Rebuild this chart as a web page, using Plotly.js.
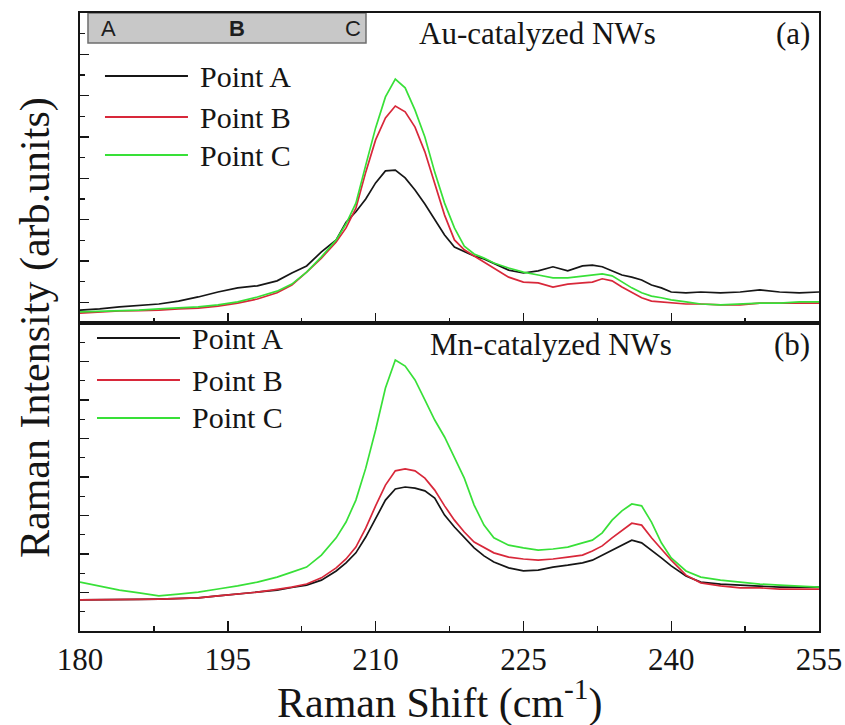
<!DOCTYPE html>
<html>
<head>
<meta charset="utf-8">
<script src="https://cdn.plot.ly/plotly-3.0.1.min.js"></script>
<style>
  html, body { margin: 0; padding: 0; background: #fff; }
  #chart { width: 845px; height: 725px; }
</style>
</head>
<body>
<div id="chart"></div>
<script>
// Raman shift sampling (cm^-1), shared by every spectrum
const ramanShift = [180, 182, 184, 186, 188, 190, 192, 194, 196, 198,
  200, 201.5, 203, 204.5, 206,
  207, 208, 209, 210, 211, 212, 213, 214, 215, 216,
  217, 218, 219, 220, 221, 222,
  223.5, 225, 226.5, 228, 229.5, 231,
  232, 233, 234, 235, 236, 237, 238, 239, 240,
  241.5, 243, 245, 247, 249, 251, 253, 255];

// (a) Au-catalyzed NWs, intensity in arbitrary units
const auPointA = [31, 34, 39, 42, 46, 53, 63, 75, 85, 90,
  102, 121, 138, 172, 201,
  244, 269, 300, 339, 368, 370, 351, 322, 288, 252,
  213, 184, 172, 162, 155, 145,
  128, 121, 126, 136, 126, 138,
  140, 136, 126, 116, 111, 104, 92, 85, 75,
  73, 75, 73, 75, 80, 75, 73, 75];
const auPointB = [24, 27, 29, 30, 31, 34, 36, 41, 48, 58,
  73, 92, 123, 157, 196,
  230, 278, 365, 443, 496, 525, 511, 474, 414, 336,
  261, 201, 177, 162, 148, 133,
  111, 99, 97, 87, 94, 97,
  99, 107, 102, 87, 73, 61, 53, 51, 48,
  46, 46, 44, 44, 48, 48, 48, 48];
const auPointC = [27, 28, 29, 31, 34, 36, 39, 44, 51, 63,
  77, 94, 123, 160, 201,
  240, 290, 382, 472, 547, 590, 569, 515, 450, 365,
  290, 230, 186, 167, 157, 145,
  133, 123, 116, 109, 109, 114,
  116, 119, 114, 99, 85, 73, 65, 61, 56,
  51, 46, 44, 46, 48, 48, 51, 51];

// (b) Mn-catalyzed NWs, intensity in arbitrary units
const mnPointA = [81, 81, 81, 82, 83, 84, 86, 91, 96, 100,
  106, 113, 119, 132, 156,
  177, 203, 244, 293, 340, 369, 374, 371, 364, 345,
  301, 270, 242, 216, 195, 179,
  164, 156, 158, 166, 171, 177,
  184, 197, 210, 223, 236, 229, 210, 190, 169,
  143, 127, 122, 119, 117, 114, 114, 114];
const mnPointB = [81, 81, 81, 82, 83, 84, 86, 91, 96, 101,
  108, 114, 122, 138, 164,
  187, 218, 267, 325, 379, 416, 421, 416, 397, 366,
  325, 288, 257, 231, 216, 203,
  192, 187, 184, 187, 192, 197,
  208, 221, 242, 262, 280, 275, 242, 213, 184,
  145, 125, 117, 112, 112, 109, 109, 109];
const mnPointC = [127, 117, 106, 99, 91, 96, 101, 109, 117, 127,
  140, 153, 166, 197, 242,
  283, 340, 423, 522, 631, 704, 688, 652, 600, 548,
  504, 449, 397, 327, 275, 242,
  223, 216, 210, 213, 218, 229,
  236, 255, 288, 312, 330, 325, 283, 229, 190,
  156, 140, 132, 127, 122, 119, 117, 114];

const seriesNames = ['Point A', 'Point B', 'Point C'];
const seriesColors = ['#161616', '#d8283a', '#38e038'];
const panelTitles = ['Au-catalyzed NWs', 'Mn-catalyzed NWs'];
const panelTags = ['(a)', '(b)'];
const positionMarks = ['A', 'B', 'C'];
const xTickVals = [180, 195, 210, 225, 240, 255];
const xTitle = 'Raman Shift (cm<sup>-1</sup>)';
const yTitle = 'Raman Intensity (arb.units)';

const panels = [
  {series: [auPointA, auPointB, auPointC], xa: 'x', ya: 'y'},
  {series: [mnPointA, mnPointB, mnPointC], xa: 'x2', ya: 'y2'}
];

const traces = [];
panels.forEach(p => {
  p.series.forEach((vals, i) => {
    traces.push({
      type: 'scatter', mode: 'lines',
      x: ramanShift, y: vals,
      xaxis: p.xa, yaxis: p.ya,
      name: seriesNames[i],
      line: {color: seriesColors[i], width: 1.7},
      hoverinfo: 'x+y+name'
    });
  });
});

const serif = 'Liberation Serif, Times New Roman, serif';
const ink = '#151515';

const frame = {
  showline: true, linecolor: ink, linewidth: 1.6, mirror: true,
  showgrid: false, zeroline: false,
  ticks: 'inside', tickcolor: ink, tickwidth: 1.4
};

// Plot area in paper units: bottom panel share of the height
const split = 0.4984;

// Legend blocks with long line samples, one per panel
const legendRows = [
  {lineX: [0.0338, 0.1461], textX: 0.1597, ys: [0.898, 0.8317, 0.7702]},
  {lineX: [0.0230, 0.1353], textX: 0.1488, ys: [0.4741, 0.4061, 0.3447]}
];

// Grey strip marking the A-B-C scan positions
const shapes = [{
  type: 'rect', xref: 'paper', yref: 'paper',
  x0: 0.0108, x1: 0.387, y0: 0.9515, y1: 1.0,
  fillcolor: '#c8c8c8', line: {color: '#6e6e6e', width: 1.5}, layer: 'below'
}];
const annotations = [];

legendRows.forEach(row => {
  seriesNames.forEach((name, i) => {
    shapes.push({
      type: 'line', xref: 'paper', yref: 'paper',
      x0: row.lineX[0], x1: row.lineX[1], y0: row.ys[i], y1: row.ys[i],
      line: {color: seriesColors[i], width: 2}
    });
    annotations.push({
      xref: 'paper', yref: 'paper', x: row.textX, y: row.ys[i],
      xanchor: 'left', yanchor: 'middle', showarrow: false,
      text: name, font: {family: serif, size: 30, color: ink}
    });
  });
});

const titleY = [0.9676, 0.4644];
const titleX = [0.456, 0.471];
panelTitles.forEach((t, k) => {
  annotations.push({
    xref: 'paper', yref: 'paper', x: titleX[k], y: titleY[k],
    xanchor: 'left', yanchor: 'middle', showarrow: false,
    text: t, font: {family: serif, size: 31, color: ink}
  });
  annotations.push({
    xref: 'paper', yref: 'paper', x: 0.9905, y: titleY[k],
    xanchor: 'right', yanchor: 'middle', showarrow: false,
    text: panelTags[k], font: {family: serif, size: 31, color: ink}
  });
});

const markX = [0.0392, 0.2124, 0.3694];
positionMarks.forEach((m, i) => {
  annotations.push({
    xref: 'paper', yref: 'paper', x: markX[i], y: 0.9745,
    xanchor: 'center', yanchor: 'middle', showarrow: false,
    text: m,
    font: {family: 'Liberation Sans, Arial, sans-serif', size: 22,
           color: '#1e1e1e', weight: m === 'B' ? 700 : 400}
  });
});

annotations.push({
  xref: 'paper', yref: 'paper', x: -0.0609, y: 0.4919,
  xanchor: 'center', yanchor: 'middle', textangle: -90, showarrow: false,
  text: yTitle, font: {family: serif, size: 42, color: ink}
});
annotations.push({
  xref: 'paper', yref: 'paper', x: 0.487, y: -0.1117,
  xanchor: 'center', yanchor: 'middle', showarrow: false,
  text: xTitle, font: {family: serif, size: 42, color: ink}
});

const layout = {
  width: 845, height: 725,
  margin: {l: 80, r: 26, t: 13, b: 94},
  paper_bgcolor: '#ffffff', plot_bgcolor: '#ffffff',
  showlegend: false,
  font: {family: serif, color: ink},
  xaxis: Object.assign({}, frame, {
    domain: [0, 1], anchor: 'y', range: [180, 255],
    tickvals: xTickVals, ticklen: 10, showticklabels: false,
    minor: {dtick: 7.5, tick0: 180, ticks: 'inside', ticklen: 5, tickwidth: 1.4, tickcolor: ink}
  }),
  yaxis: Object.assign({}, frame, {
    domain: [split, 1], anchor: 'x', range: [0, 750],
    tick0: 50, dtick: 100, ticklen: 9, showticklabels: false,
    minor: {dtick: 50, tick0: 0, ticks: 'inside', ticklen: 5, tickwidth: 1.4, tickcolor: ink}
  }),
  xaxis2: Object.assign({}, frame, {
    domain: [0, 1], anchor: 'y2', range: [180, 255],
    tickvals: xTickVals, ticktext: xTickVals.map(String), ticklen: 10,
    tickfont: {family: serif, size: 31, color: ink},
    minor: {dtick: 7.5, tick0: 180, ticks: 'inside', ticklen: 5, tickwidth: 1.4, tickcolor: ink}
  }),
  yaxis2: Object.assign({}, frame, {
    domain: [0, split], anchor: 'x2', range: [0, 800],
    tick0: 0, dtick: 100, ticklen: 9, showticklabels: false,
    minor: {dtick: 50, tick0: 0, ticks: 'inside', ticklen: 5, tickwidth: 1.4, tickcolor: ink}
  }),
  shapes: shapes,
  annotations: annotations
};

Plotly.newPlot('chart', traces, layout, {displayModeBar: false, staticPlot: true});
</script>
</body>
</html>
